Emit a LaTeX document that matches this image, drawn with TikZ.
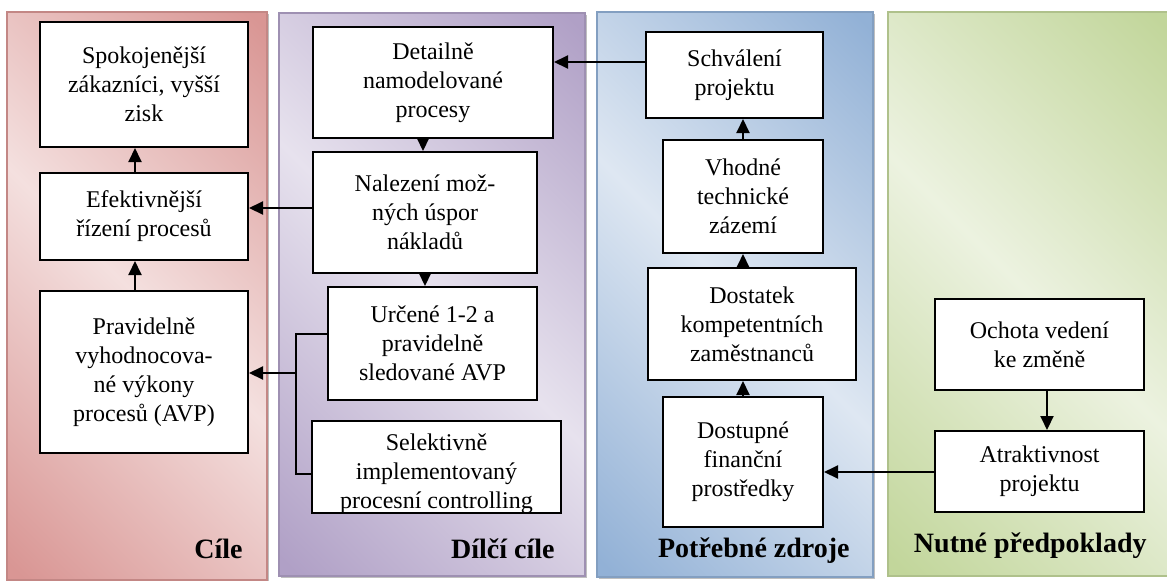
\documentclass[tikz,border=0pt]{standalone}
\usepackage{fontspec}
\setmainfont{Liberation Serif}
\usetikzlibrary{arrows.meta}

% panel colours (dark edge / light centre)
\definecolor{rdark}{RGB}{217,150,148}
\definecolor{rlight}{RGB}{244,224,223}
\definecolor{pdark}{RGB}{176,160,198}
\definecolor{plight}{RGB}{231,226,238}
\definecolor{bdark}{RGB}{146,177,214}
\definecolor{blight}{RGB}{222,231,242}
\definecolor{gdark}{RGB}{194,214,155}
\definecolor{glight}{RGB}{236,242,224}

% diagonal bands: dark corners, light middle
\pgfdeclarehorizontalshading{redband}{100bp}{color(0bp)=(rdark); color(16bp)=(rdark); color(50bp)=(rlight); color(84bp)=(rdark); color(100bp)=(rdark)}
\pgfdeclarehorizontalshading{purpleband}{100bp}{color(0bp)=(pdark); color(16bp)=(pdark); color(50bp)=(plight); color(84bp)=(pdark); color(100bp)=(pdark)}
\pgfdeclarehorizontalshading{blueband}{100bp}{color(0bp)=(bdark); color(16bp)=(bdark); color(50bp)=(blight); color(84bp)=(bdark); color(100bp)=(bdark)}
\pgfdeclarehorizontalshading{greenband}{100bp}{color(0bp)=(gdark); color(16bp)=(gdark); color(50bp)=(glight); color(84bp)=(gdark); color(100bp)=(gdark)}

\tikzset{
  box/.style={draw, line width=1pt, fill=white, align=center, inner sep=0pt,
    font=\fontsize{12}{14.5}\selectfont},
  arr/.style={line width=1pt, -{Triangle[length=7pt,width=6.5pt]}},
  link/.style={line width=0.7pt},
  paneltitle/.style={anchor=base east, inner sep=0pt,
    font=\fontsize{14}{16}\selectfont\bfseries},
  panelshadow/.style={fill=black!25},
}

\begin{document}
\begin{tikzpicture}[x=0.5pt, y=-0.5pt]
\useasboundingbox (0,0) rectangle (1167,580);

% ---- column backgrounds ----
\fill[panelshadow] (9,14) rectangle (269,582);
\shade[shading=redband, shading angle=45, draw=rdark!90!black, line width=0.6pt] (7,12) rectangle (267,580);
\fill[panelshadow] (281,15) rectangle (587,578);
\shade[shading=purpleband, shading angle=45, draw=pdark!90!black, line width=0.6pt] (279,13) rectangle (585,576);
\fill[panelshadow] (599,14) rectangle (875,579);
\shade[shading=blueband, shading angle=45, draw=bdark!90!black, line width=0.6pt] (597,12) rectangle (873,577);
\shade[shading=greenband, shading angle=45, draw=gdark!90!black, line width=0.6pt] (888,12) rectangle (1170,576);

% ---- Cíle ----
\node[box, minimum width=104pt, minimum height=62.5pt] (sp) at (144,84.5)
  {Spokojenější\\zákazníci, vyšší\\zisk};
\node[box, minimum width=104pt, minimum height=43.5pt] (ef) at (144,216.5)
  {Efektivnější\\řízení procesů};
\node[box, minimum width=104pt, minimum height=81pt] (pr) at (144,372)
  {Pravidelně\\vyhodnocova-\\né výkony\\procesů (AVP)};

% ---- Dílčí cíle ----
\node[box, minimum width=120pt, minimum height=55.5pt] (de) at (433,82.5)
  {Detailně\\namodelované\\procesy};
\node[box, minimum width=112pt, minimum height=60.5pt] (na) at (425,212.5)
  {Nalezení mož-\\ných úspor\\nákladů};
\node[box, minimum width=104.5pt, minimum height=56.5pt] (ur) at (432.5,343.5)
  {Určené 1-2 a\\pravidelně\\sledované AVP};
\node[box, draw=none, minimum width=123.5pt, minimum height=45pt] (se) at (436.5,467) {};
\begin{scope}
  \clip (se.south west) rectangle (se.north east);
  % anchor "base" of a multi-line node sits on its last line
  \node[align=center, inner sep=0pt, anchor=base, font=\fontsize{12}{14.5}\selectfont]
    (setext) at (436.5,508) {Selektivně\\implementovaný\\procesní controlling};
\end{scope}
\draw[line width=1pt] (se.south west) rectangle (se.north east);

% ---- Potřebné zdroje ----
\node[box, minimum width=88.5pt, minimum height=43pt] (sc) at (734.5,75)
  {Schválení\\projektu};
\node[box, minimum width=80pt, minimum height=56.5pt] (vh) at (743,196.5)
  {Vhodné\\technické\\zázemí};
\node[box, minimum width=104pt, minimum height=56pt] (do) at (752,324)
  {Dostatek\\kompetentních\\zaměstnanců};
\node[box, minimum width=80pt, minimum height=65pt] (fi) at (743,462)
  {Dostupné\\finanční\\prostředky};

% ---- Nutné předpoklady ----
\node[box, minimum width=104.5pt, minimum height=45.5pt] (oc) at (1039.5,344.5)
  {Ochota vedení\\ke změně};
\node[box, minimum width=104.5pt, minimum height=40.5pt] (at) at (1039.5,471.5)
  {Atraktivnost\\projektu};

% ---- column titles ----
\node[paneltitle] (t1) at (243,558) {Cíle};
\node[paneltitle] (t2) at (555,558) {Dílčí cíle};
\node[paneltitle] (t3) at (850,557) {Potřebné zdroje};
\node[paneltitle] (t4) at (1147,552) {Nutné předpoklady};

% ---- connectors ----
\coordinate (c1) at (135,0);
\coordinate (c2) at (423,0);
\coordinate (c3) at (425,0);
\coordinate (ya) at (0,208);
\coordinate (yb) at (0,62);
\coordinate (yc) at (0,472);
\coordinate (c4) at (1047,0);
\coordinate (ytop) at (0,334);
\coordinate (ybot) at (0,474);
\coordinate (jn) at (296,373);

\draw[arr] (ef.north -| c1) -- (sp.south -| c1);
\draw[arr] (pr.north -| c1) -- (ef.south -| c1);
\draw[arr] (na.west |- ya) -- (ef.east |- ya);
\draw[arr] (sc.west |- yb) -- (de.east |- yb);
\draw[arr] (de.south -| c2) -- (na.north -| c2);
\draw[arr] (na.south -| c3) -- (ur.north -| c3);
\draw[arr] (vh.north) -- (sc.south -| vh.north);
\draw[arr] (do.north -| vh.south) -- (vh.south);
\draw[arr] (fi.north) -- (do.south -| fi.north);
\draw[arr] (at.west |- yc) -- (fi.east |- yc);
\draw[arr] (oc.south -| c4) -- (at.north -| c4);

% bracket joining the two sub-goals
\draw[link] (ur.west |- ytop) -- (jn |- ytop) -- (jn |- ybot) -- (se.west |- ybot);
\draw[arr] (jn) -- (pr.east |- jn);
\end{tikzpicture}
\end{document}
